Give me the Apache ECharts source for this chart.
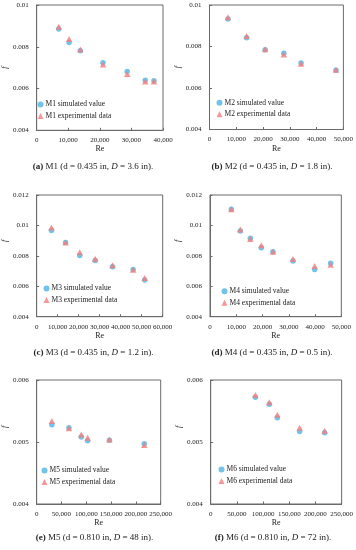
<!DOCTYPE html>
<html>
<head>
<meta charset="utf-8">
<script src="https://cdn.jsdelivr.net/npm/echarts@6/dist/echarts.min.js"></script>
<style>html,body{margin:0;padding:0;background:#fff;}#c{width:356px;height:550px;}</style>
</head>
<body>
<div id="c"></div>
<script>
// ---- data ----
const reA = [7000, 10270, 13840, 21000, 28660, 34380, 37140];
const simA = [0.00885, 0.00821, 0.00781, 0.00723, 0.00681, 0.00640, 0.00637];
const expA = [0.00896, 0.00837, 0.00787, 0.00715, 0.00669, 0.00634, 0.00634];

const reB = [6890, 13860, 20790, 27760, 34200, 47240];
const simB = [0.00933, 0.00842, 0.00784, 0.00768, 0.00720, 0.00686];
const expB = [0.00941, 0.00851, 0.00787, 0.00762, 0.00717, 0.00688];

const reC = [7040, 13780, 20510, 27860, 36120, 45920, 51430];
const simC = [0.00966, 0.00887, 0.00803, 0.00770, 0.00729, 0.00711, 0.00641];
const expC = [0.00987, 0.00887, 0.00823, 0.00781, 0.00738, 0.00709, 0.00654];

const reD = [8120, 11550, 15360, 19540, 23980, 31600, 39850, 45940];
const simD = [0.01106, 0.00963, 0.00915, 0.00854, 0.00827, 0.00766, 0.00711, 0.00751];
const expD = [0.01106, 0.00974, 0.00911, 0.00869, 0.00827, 0.00779, 0.00733, 0.00742];

const reE = [30610, 65050, 89920, 102680, 146680, 216840];
const simE = [0.00528, 0.00523, 0.00508, 0.00502, 0.00503, 0.00497];
const expE = [0.00534, 0.00522, 0.00512, 0.00507, 0.00504, 0.00495];

const reF = [85240, 111960, 127230, 169850, 217560];
const simF = [0.00572, 0.00561, 0.00539, 0.00517, 0.00515];
const expF = [0.00576, 0.00564, 0.00544, 0.00523, 0.00518];

const panelIds = ['M1', 'M2', 'M3', 'M4', 'M5', 'M6'];
const panelLetters = ['a', 'b', 'c', 'd', 'e', 'f'];
const panelDia = ['0.435', '0.435', '0.435', '0.435', '0.810', '0.810'];
const panelD = ['3.6', '1.8', '1.2', '0.5', '48', '72'];
const xMax = [40000, 50000, 60000, 50000, 250000, 250000];
const xStep = [10000, 10000, 10000, 10000, 50000, 50000];
const yMin = [0.004, 0.004, 0.004, 0.004, 0.004, 0.004];
const yMax = [0.01, 0.01, 0.012, 0.012, 0.006, 0.006];
const yStep = [0.002, 0.002, 0.002, 0.002, 0.001, 0.001];
const reAll = [reA, reB, reC, reD, reE, reF];
const simAll = [simA, simB, simC, simD, simE, simF];
const expAll = [expA, expB, expC, expD, expE, expF];

// ---- layout ----
const grids = [
  {left: 32.5, top: 5, width: 130.5, height: 125.3},
  {left: 209.5, top: 5, width: 134.2, height: 124.5},
  {left: 32, top: 195, width: 130.7, height: 121.7},
  {left: 210, top: 195, width: 131.3, height: 121.7},
  {left: 30, top: 380, width: 130.7, height: 124},
  {left: 210.7, top: 380, width: 131, height: 124}
];
const legendPos = [
  {left: 37.5, top: 100.5}, {left: 216.5, top: 98.8}, {left: 43.5, top: 284.5},
  {left: 221.5, top: 287.2}, {left: 41.5, top: 466.5}, {left: 218.5, top: 465.5}
];
const titlePos = [
  {x: 93, y: 162}, {x: 272, y: 162}, {x: 93.5, y: 348.5},
  {x: 272, y: 348.5}, {x: 94.5, y: 533.5}, {x: 273, y: 533.5}
];
const fNamePad = [0, 0, 30, 30, 30, 30];

const FONT = 'Liberation Serif';
const TXT = '#222';
const FRAME = '#6a6a6a';
const BLUE = '#4FB4E5';
const RED = '#F47C7C';

const option = {
  animation: false,
  backgroundColor: '#fff',
  grid: [], xAxis: [], yAxis: [], series: [], legend: [], title: []
};

for (let i = 0; i < 6; i++) {
  option.grid.push(Object.assign({show: true, borderColor: FRAME, borderWidth: 1, containLabel: false}, grids[i]));
  option.xAxis.push({
    type: 'value', gridIndex: i, min: 0, max: xMax[i], interval: xStep[i],
    name: 'Re', nameLocation: 'middle', nameGap: 15,
    nameTextStyle: {fontFamily: FONT, fontSize: 8, color: TXT},
    axisLine: {show: true, lineStyle: {color: FRAME, width: 1}},
    axisTick: {show: true, inside: true, length: 2.5, lineStyle: {color: FRAME}},
    splitLine: {show: false},
    axisLabel: {fontFamily: FONT, fontSize: 7, color: TXT, margin: 6.5,
      formatter: v => v === 0 ? '0' : v.toLocaleString('en-US')}
  });
  option.yAxis.push({
    type: 'value', gridIndex: i, min: yMin[i], max: yMax[i], interval: yStep[i],
    name: 'f', nameLocation: 'middle', nameGap: 23,
    nameTextStyle: {fontFamily: FONT, fontSize: 8, fontStyle: 'italic', color: TXT,
      padding: [0, 0, 0, fNamePad[i]]},
    axisLine: {show: true, lineStyle: {color: FRAME, width: 1}},
    axisTick: {show: true, inside: true, length: 2.5, lineStyle: {color: FRAME}},
    splitLine: {show: false},
    axisLabel: {fontFamily: FONT, fontSize: 7, color: TXT, margin: 8,
      formatter: v => String(Number(v.toFixed(4)))}
  });
  const simName = panelIds[i] + ' simulated value';
  const expName = panelIds[i] + ' experimental data';
  option.series.push({
    name: simName, type: 'scatter', xAxisIndex: i, yAxisIndex: i,
    symbol: 'circle', symbolSize: 5.5, itemStyle: {color: BLUE},
    data: reAll[i].map((r, k) => [r, simAll[i][k]])
  });
  option.series.push({
    name: expName, type: 'scatter', xAxisIndex: i, yAxisIndex: i,
    symbol: 'triangle', symbolSize: [6.5, 6], itemStyle: {color: RED},
    data: reAll[i].map((r, k) => [r, expAll[i][k]])
  });
  option.legend.push({
    data: [simName, expName], orient: 'vertical',
    left: legendPos[i].left, top: legendPos[i].top,
    itemWidth: 6, itemHeight: 6, itemGap: 3.5, padding: 0,
    textStyle: {fontFamily: FONT, fontSize: 7.5, color: TXT, padding: [0, 0, 0, -3]}
  });
  option.title.push({
    text: '{b|(' + panelLetters[i] + ')} ' + panelIds[i] + ' (d = ' + panelDia[i] + ' in, {i|D} = ' + panelD[i] + ' in).',
    left: titlePos[i].x, top: titlePos[i].y, textAlign: 'center', padding: 0,
    textStyle: {fontFamily: FONT, fontSize: 9, fontWeight: 'normal', color: TXT,
      rich: {
        b: {fontFamily: FONT, fontSize: 9, fontWeight: 'bold', color: TXT},
        i: {fontFamily: FONT, fontSize: 9, fontStyle: 'italic', color: TXT}
      }}
  });
}

const chart = echarts.init(document.getElementById('c'), null, {renderer: 'canvas'});
chart.setOption(option);
</script>
</body>
</html>
